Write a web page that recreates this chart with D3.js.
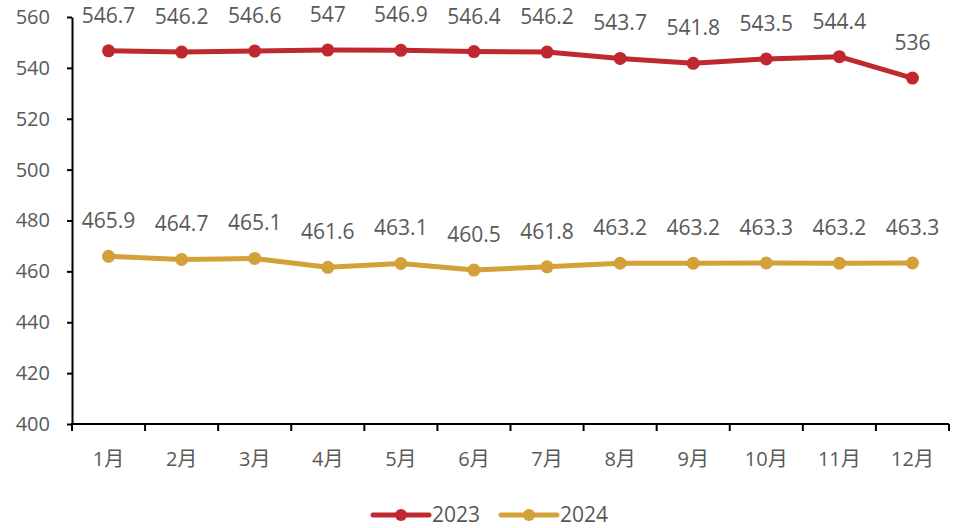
<!DOCTYPE html>
<html>
<head>
<meta charset="utf-8">
<script src="https://cdn.jsdelivr.net/npm/d3@7"></script>
<style>
  html, body { margin: 0; padding: 0; background: #fff; }
  svg text { font-family: "Open Sans", "Noto Sans CJK SC", sans-serif; fill: #595959; }
</style>
</head>
<body>
<svg id="chart" width="957" height="528"></svg>
<script>
const months = ["1月","2月","3月","4月","5月","6月","7月","8月","9月","10月","11月","12月"];
const values2023 = [546.7, 546.2, 546.6, 547, 546.9, 546.4, 546.2, 543.7, 541.8, 543.5, 544.4, 536];
const values2024 = [465.9, 464.7, 465.1, 461.6, 463.1, 460.5, 461.8, 463.2, 463.2, 463.3, 463.2, 463.3];
const seriesNames = ["2023", "2024"];
const seriesColors = ["#BF282E", "#D3A03A"];
const yTicks = [400, 420, 440, 460, 480, 500, 520, 540, 560];

const svg = d3.select("#chart");
const plot = { left: 72, right: 949, top: 17, bottom: 424 };

const x = d3.scaleBand().domain(months).range([plot.left, plot.right]).padding(0);
const y = d3.scaleLinear().domain([400, 560]).range([plot.bottom, plot.top]);
const cx = (i) => x(months[i]) + x.bandwidth() / 2;

// y axis
const yAxis = svg.append("g").attr("transform", `translate(${plot.left},0)`)
  .call(d3.axisLeft(y).tickValues(yTicks).tickSize(5).tickSizeOuter(0).tickPadding(17));
yAxis.select(".domain").attr("stroke", "#000").attr("stroke-width", 2);
yAxis.selectAll(".tick line").attr("stroke", "#000").attr("stroke-width", 2);
yAxis.selectAll(".tick text").attr("font-size", 20).attr("fill", "#595959");

// x axis with ticks at category boundaries
const xAxis = svg.append("g").attr("transform", `translate(0,${plot.bottom})`);
xAxis.append("line").attr("x1", plot.left - 1).attr("x2", plot.right).attr("y1", 0).attr("y2", 0)
  .attr("stroke", "#000").attr("stroke-width", 2);
const bounds = months.map(m => x(m)).concat([plot.right]);
xAxis.selectAll("line.tk").data(bounds).join("line").attr("class", "tk")
  .attr("x1", d => d).attr("x2", d => d).attr("y1", 0).attr("y2", 7)
  .attr("stroke", "#000").attr("stroke-width", 2);
xAxis.selectAll("text").data(months).join("text")
  .attr("x", d => x(d) + x.bandwidth() / 2).attr("y", 42)
  .attr("text-anchor", "middle").attr("font-size", 20).text(d => d);

const line = d3.line().x((d, i) => cx(i)).y(d => y(d));

[values2023, values2024].forEach((vals, s) => {
  const g = svg.append("g");
  g.append("path").datum(vals).attr("d", line).attr("fill", "none")
    .attr("stroke", seriesColors[s]).attr("stroke-width", 5).attr("stroke-linejoin", "round");
  g.selectAll("circle").data(vals).join("circle")
    .attr("cx", (d, i) => cx(i)).attr("cy", d => y(d))
    .attr("r", 6.5).attr("fill", seriesColors[s]);
  g.selectAll("text").data(vals).join("text")
    .attr("x", (d, i) => cx(i)).attr("y", d => y(d) - 28)
    .attr("text-anchor", "middle").attr("font-size", 21).text(d => d);
});

// legend
const legendX = [373, 501];
legendX.forEach((lx, s) => {
  const g = svg.append("g").attr("transform", `translate(${lx},515)`);
  g.append("line").attr("x1", 0).attr("x2", 56).attr("y1", 0).attr("y2", 0)
    .attr("stroke", seriesColors[s]).attr("stroke-width", 5).attr("stroke-linecap", "round");
  g.append("circle").attr("cx", 28).attr("cy", 0).attr("r", 6).attr("fill", seriesColors[s]);
  g.append("text").attr("x", 59).attr("y", 0).attr("dy", "0.35em")
    .attr("font-size", 21).text(seriesNames[s]);
});
</script>
</body>
</html>
